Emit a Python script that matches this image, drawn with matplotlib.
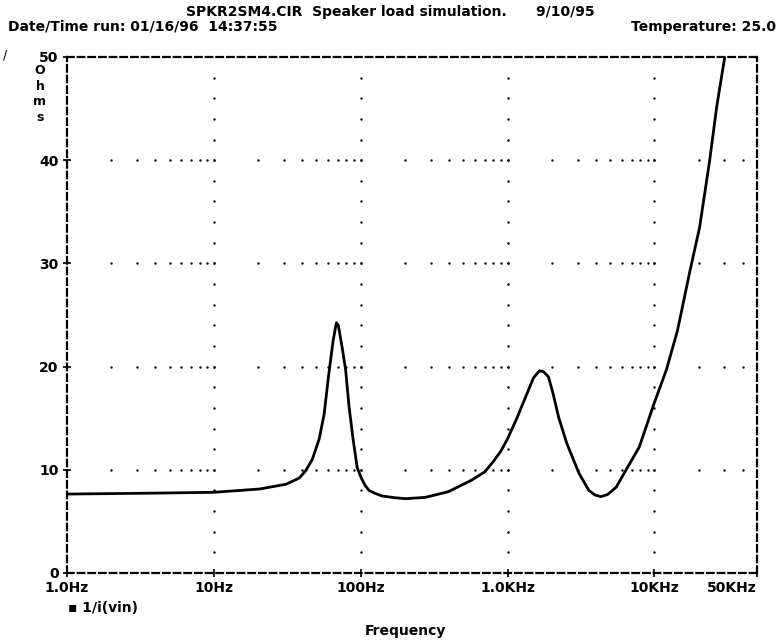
import numpy as np
import matplotlib
matplotlib.use("Agg")
import matplotlib.pyplot as plt

# impedance curve (Hz, ohms)
freq = [1, 3, 5, 10, 20.5, 31.0, 38.2, 42.4, 46.8, 52.2, 56.4, 60.3, 64.9,
        68.3, 70.4, 74.5, 79.0, 83.2, 88.5, 94.7, 101, 107, 114, 126, 140,
        170, 202, 276, 396, 570, 700, 800, 900, 1000, 1150, 1323, 1501,
        1651, 1760, 1902, 2050, 2228, 2528, 3057, 3580, 3950, 4327, 4800,
        5486, 6424, 7889, 10000, 12083, 14377, 17366, 20336, 23810, 26590,
        30160]
ohms = [7.65, 7.72, 7.76, 7.82, 8.14, 8.6, 9.2, 9.95, 11.0, 13.0, 15.4, 19.0,
        22.5, 24.25, 24.0, 22.0, 19.67, 16.2, 13.1, 10.2, 9.2, 8.5, 8.0,
        7.7, 7.46, 7.3, 7.2, 7.33, 7.88, 9.0, 9.8, 10.8, 11.8, 13.0, 14.9,
        17.0, 18.9, 19.6, 19.5, 19.0, 17.3, 15.1, 12.6, 9.7, 8.0, 7.55, 7.4,
        7.6, 8.3, 10.0, 12.2, 16.5, 19.7, 23.5, 29.1, 33.5, 40.0, 45.2, 50.0]

xtick_pos = [1, 10, 100, 1000, 10000, 50000]
xtick_lbl = ['1.0Hz', '10Hz', '100Hz', '1.0KHz', '10KHz', '50KHz']
ytick_pos = [0, 10, 20, 30, 40, 50]

plt.rcParams['font.family'] = ['DejaVu Sans']
fig = plt.figure(figsize=(7.78, 6.41), dpi=100)
ax = fig.add_axes([67 / 778, 68 / 641, 690 / 778, 516 / 641])

ax.plot(freq, ohms, color='black', lw=2.0, solid_joinstyle='round',
        solid_capstyle='round')

ax.set_xscale('log')
ax.set_xlim(1, 50000)
ax.set_ylim(0, 50)

# dotted grid, drawn as dots at the minor positions
gx = []
for d in range(0, 5):
    for k in range(2, 11):
        v = k * 10 ** d
        if v < 50000:
            gx.append(v)
for yv in [10, 20, 30, 40]:
    ax.scatter(gx, [yv] * len(gx), s=3, color='black', lw=0)
gy = [v for v in range(2, 50, 2)]
for xv in [10, 100, 1000, 10000]:
    ax.scatter([xv] * len(gy), gy, s=3, color='black', lw=0)

for s in ax.spines.values():
    s.set_linestyle((0, (3, 1.8)))
    s.set_linewidth(1.6)

ax.set_xticks(xtick_pos)
ax.set_xticklabels(xtick_lbl, fontsize=10, fontweight='bold')
ax.xaxis.set_minor_locator(matplotlib.ticker.NullLocator())
labels = ax.get_xticklabels()
labels[-1].set_horizontalalignment('right')
ax.set_yticks(ytick_pos)
ax.set_yticklabels([str(v) for v in ytick_pos], fontsize=10, fontweight='bold')
ax.tick_params(axis='both', direction='inout', length=6, width=1.2, pad=3)

fig.text(390 / 778, 1 - 12 / 641, 'SPKR2SM4.CIR  Speaker load simulation.      9/10/95',
         ha='center', va='center', fontsize=10, fontweight='bold')
fig.text(8 / 778, 1 - 27 / 641, 'Date/Time run: 01/16/96  14:37:55',
         ha='left', va='center', fontsize=10, fontweight='bold')
fig.text(776 / 778, 1 - 27 / 641, 'Temperature: 25.0',
         ha='right', va='center', fontsize=10, fontweight='bold')
fig.text(40 / 778, 1 - 94 / 641, 'O\nh\nm\ns', ha='center', va='center',
         fontsize=9, fontweight='bold', linespacing=1.25)
fig.text(5 / 778, 1 - 55 / 641, '/', ha='center', va='center', fontsize=9)
fig.text(68 / 778, 1 - 608 / 641, '\u25aa 1/i(vin)', ha='left', va='center',
         fontsize=10, fontweight='bold')
fig.text(405 / 778, 1 - 631 / 641, 'Frequency', ha='center', va='center',
         fontsize=10, fontweight='bold')

fig.savefig('out.png', dpi=100)
